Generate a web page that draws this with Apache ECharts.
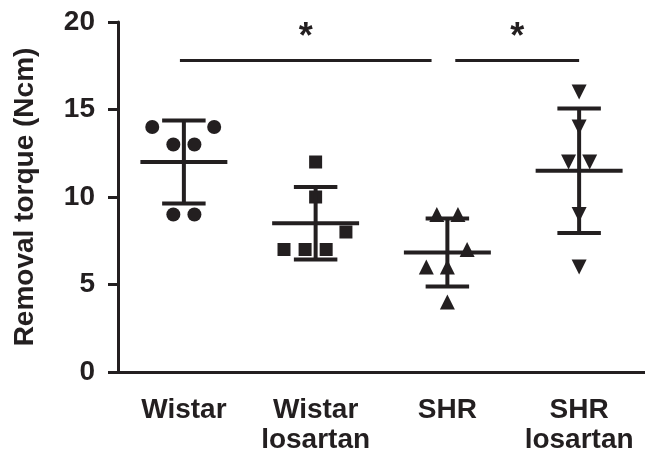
<!DOCTYPE html>
<html>
<head>
<meta charset="utf-8">
<script src="https://cdn.jsdelivr.net/npm/echarts@6/dist/echarts.min.js"></script>
<style>
  html, body { margin: 0; padding: 0; background: #fff; }
  #chart { width: 645px; height: 458px; }
</style>
</head>
<body>
<div id="chart"></div>
<script>
// groups on the x axis
const categories = ["Wistar", "Wistar\nlosartan", "SHR", "SHR\nlosartan"];

// removal torque per animal (Ncm)
const wistar = [14, 14, 13, 13, 9, 9];
const wistarLosartan = [12, 10, 8, 7, 7, 7];
const shr = [9, 9, 7, 6, 6, 4];
const shrLosartan = [16, 14, 12, 12, 9, 6];

// horizontal spread of the points inside each group (category units)
const wistarSpread = [-0.24, 0.23, -0.08, 0.08, -0.08, 0.08];
const wistarLosartanSpread = [0, 0, 0.23, -0.24, -0.08, 0.08];
const shrSpread = [-0.08, 0.08, 0.15, -0.16, 0, 0];
const shrLosartanSpread = [0, 0, -0.08, 0.08, 0, 0];

// y axis ticks
const yTicks = [0, 5, 10, 15, 20];

// significance brackets: [from, to, height, mark]
const comparisons = [
  [0.97, 2.88, 17.8, "*"],
  [3.06, 4.0, 17.8, "*"],
];

const ink = "#231f20";
const font = "'Liberation Sans', Arial, sans-serif";

const groups = [
  { values: wistar, spread: wistarSpread, symbol: "circle", size: 14 },
  { values: wistarLosartan, spread: wistarLosartanSpread, symbol: "rect", size: 13 },
  { values: shr, spread: shrSpread, symbol: "triangle", size: 15 },
  {
    values: shrLosartan,
    spread: shrLosartanSpread,
    symbol: "triangle",
    size: 15,
    rotate: 180,
  },
];

const mean = (arr) => arr.reduce((s, v) => s + v, 0) / arr.length;
const sd = (arr) => {
  const m = mean(arr);
  return Math.sqrt(arr.reduce((s, v) => s + (v - m) ** 2, 0) / (arr.length - 1));
};

const scatterSeries = groups.map((g, i) => ({
  type: "scatter",
  xAxisIndex: 1,
  symbol: g.symbol,
  symbolSize: g.size,
  symbolRotate: g.rotate || 0,
  itemStyle: { color: ink, opacity: 1 },
  emphasis: { disabled: true },
  data: g.values.map((v, j) => [i + 1 + g.spread[j], v]),
  z: 2,
}));

// mean +/- SD
const errorSeries = {
  type: "custom",
  xAxisIndex: 1,
  data: groups.map((g, i) => [i + 1, mean(g.values), sd(g.values)]),
  renderItem: (params, api) => {
    const x = api.value(0);
    const m = api.value(1);
    const s = api.value(2);
    const line = (a, b) => ({
      type: "line",
      shape: { x1: a[0], y1: a[1], x2: b[0], y2: b[1] },
      style: { stroke: ink, lineWidth: 4 },
    });
    return {
      type: "group",
      children: [
        line(api.coord([x - 0.33, m]), api.coord([x + 0.33, m])),
        line(api.coord([x, m - s]), api.coord([x, m + s])),
        line(api.coord([x - 0.165, m + s]), api.coord([x + 0.165, m + s])),
        line(api.coord([x - 0.165, m - s]), api.coord([x + 0.165, m - s])),
      ],
    };
  },
  z: 3,
};

const bracketSeries = {
  type: "custom",
  xAxisIndex: 1,
  clip: false,
  data: comparisons,
  renderItem: (params, api) => {
    const a = api.coord([api.value(0), api.value(2)]);
    const b = api.coord([api.value(1), api.value(2)]);
    return {
      type: "group",
      children: [
        {
          type: "line",
          shape: { x1: a[0], y1: a[1], x2: b[0], y2: b[1] },
          style: { stroke: ink, lineWidth: 3 },
        },
        {
          type: "text",
          style: {
            x: (a[0] + b[0]) / 2,
            y: a[1] - 22,
            text: comparisons[params.dataIndex][3],
            fill: ink,
            font: "bold 36px " + font,
            align: "center",
            verticalAlign: "middle",
          },
        },
      ],
    };
  },
};

const myChart = echarts.init(document.getElementById("chart"));
myChart.setOption({
  animation: false,
  grid: { left: 118, right: -1, top: 22, bottom: 86 },
  xAxis: [
    {
      type: "category",
      data: categories,
      boundaryGap: true,
      axisLine: { lineStyle: { color: ink, width: 3 } },
      axisTick: { alignWithLabel: true, length: 9, lineStyle: { color: ink, width: 3 } },
      axisLabel: {
        color: ink,
        fontFamily: font,
        fontWeight: "bold",
        fontSize: 28,
        lineHeight: 30,
        margin: 23,
        interval: 0,
      },
    },
    { type: "value", min: 0.5, max: 4.5, show: false },
  ],
  yAxis: {
    type: "value",
    min: yTicks[0],
    max: yTicks[yTicks.length - 1],
    interval: yTicks[1] - yTicks[0],
    name: "Removal torque (Ncm)",
    nameLocation: "middle",
    nameGap: 79,
    nameTextStyle: { color: ink, fontFamily: font, fontWeight: "bold", fontSize: 28 },
    axisLine: { show: true, lineStyle: { color: ink, width: 3 } },
    axisTick: { show: true, length: 10, lineStyle: { color: ink, width: 3 } },
    axisLabel: { color: ink, fontFamily: font, fontWeight: "bold", fontSize: 28, margin: 23 },
    splitLine: { show: false },
  },
  series: [...scatterSeries, errorSeries, bracketSeries],
});
</script>
</body>
</html>
